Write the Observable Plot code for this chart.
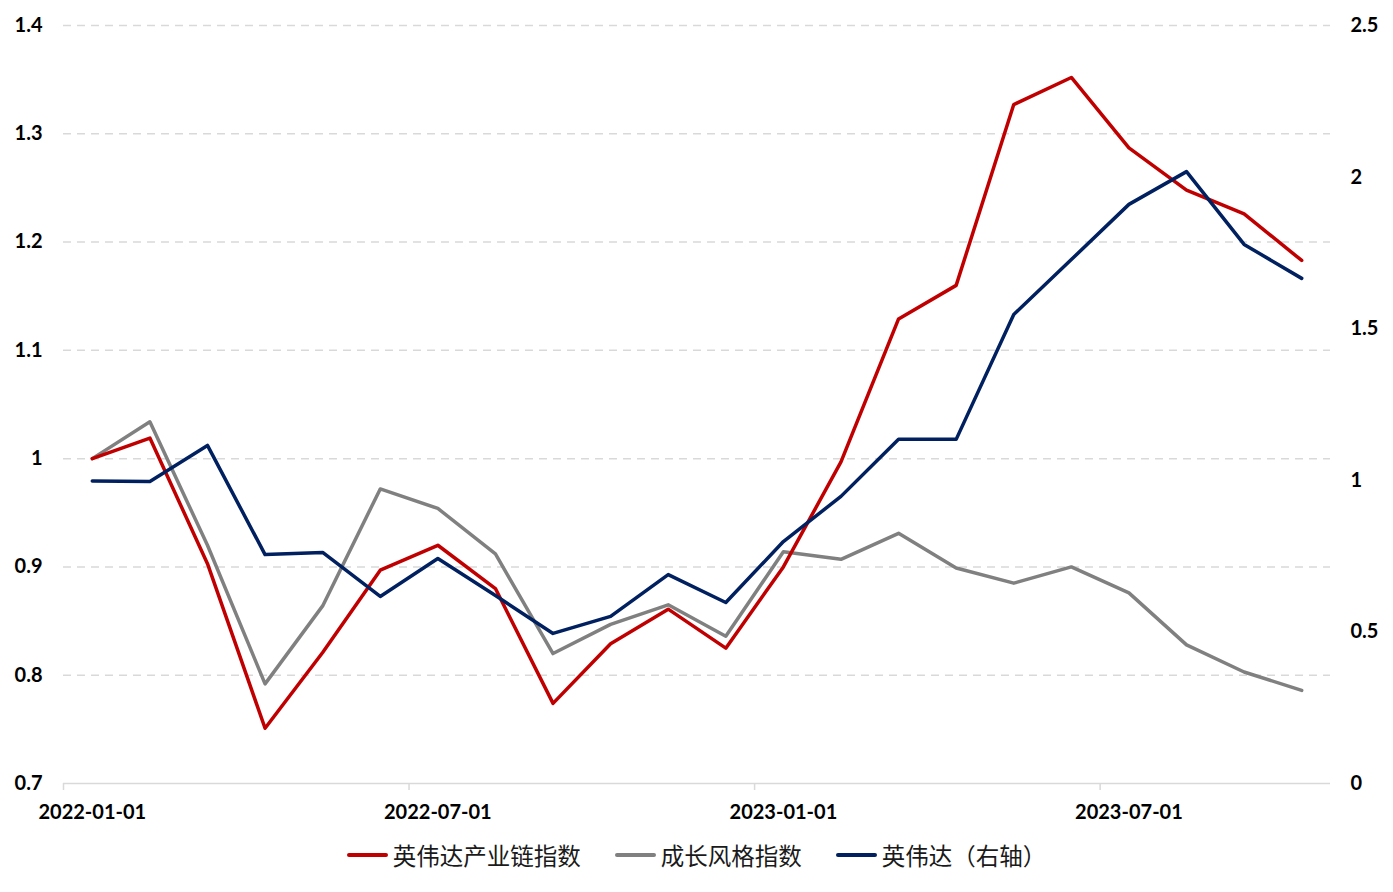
<!DOCTYPE html>
<html>
<head>
<meta charset="utf-8">
<script src="https://cdn.jsdelivr.net/npm/d3@7"></script>
<script src="https://cdn.jsdelivr.net/npm/@observablehq/plot@0.6"></script>
<style>
  body { margin: 0; background: #fff; }
  #legend { display: flex; justify-content: center; align-items: center; margin-top: 6px;
    font-family: "Noto Sans CJK SC", sans-serif; font-size: 23.5px; color: #1a1a1a; line-height: 28px; }
  .item { display: flex; align-items: center; margin: 0 17px; }
  .sw { width: 41px; height: 4px; border-radius: 2px; margin-right: 5px; }
</style>
</head>
<body>
<div id="chart"></div>
<div id="legend"></div>
<script>
const months = ["2022-01","2022-02","2022-03","2022-04","2022-05","2022-06","2022-07","2022-08","2022-09","2022-10","2022-11","2022-12",
  "2023-01","2023-02","2023-03","2023-04","2023-05","2023-06","2023-07","2023-08","2023-09","2023-10"];
const chainIndex = [1.000,1.019,0.903,0.751,0.821,0.897,0.920,0.880,0.774,0.829,0.861,0.825,0.900,0.997,1.129,1.160,1.327,1.352,1.287,1.248,1.226,1.183];
const growthIndex = [1.000,1.034,0.920,0.792,0.864,0.972,0.954,0.912,0.820,0.847,0.865,0.836,0.914,0.907,0.931,0.899,0.885,0.900,0.876,0.828,0.803,0.786];
const nvidia = [0.998,0.996,1.115,0.755,0.762,0.617,0.742,0.620,0.495,0.551,0.689,0.597,0.798,0.947,1.135,1.135,1.547,1.728,1.910,2.018,1.778,1.666];
const seriesNames = ["英伟达产业链指数","成长风格指数","英伟达（右轴）"];
const seriesColors = ["#c00000","#808080","#002060"];
const xTickLabels = ["2022-01-01","2022-07-01","2023-01-01","2023-07-01"];
const leftTicks = [0.7,0.8,0.9,1.0,1.1,1.2,1.3,1.4];
const rightTicks = [0,0.5,1,1.5,2,2.5];

const yMin = 0.7, yMax = 1.4, rMin = 0, rMax = 2.5;
const toLeft = r => yMin + (r - rMin) * (yMax - yMin) / (rMax - rMin);
const fromLeft = y => rMin + (y - yMin) * (rMax - rMin) / (yMax - yMin);

const labelIdx = xTickLabels.map(l => months.indexOf(l.slice(0,7)));
const bandEdges = labelIdx.map(i => i - 0.5);

const redRows = months.map((m,i) => ({i, v: chainIndex[i]}));
const grayRows = months.map((m,i) => ({i, v: growthIndex[i]}));
const navyRows = months.map((m,i) => ({i, v: toLeft(nvidia[i])}));

const fmt = d => String(+(+d).toFixed(2));
const font = "Lato, 'Open Sans', sans-serif";

const chart = Plot.plot({
  width: 1393, height: 835,
  marginTop: 25, marginBottom: 52, marginLeft: 63, marginRight: 63,
  style: {fontFamily: font, background: "#fff", color: "#000"},
  x: {domain: [-0.5, months.length - 0.5]},
  y: {domain: [yMin, yMax]},
  marks: [
    Plot.ruleY(leftTicks.slice(1), {stroke: "#d9d9d9", strokeWidth: 1.5, strokeDasharray: "8,6"}),
    Plot.ruleY([yMin], {stroke: "#d9d9d9", strokeWidth: 1.5}),
    Plot.axisX({ticks: bandEdges, tickSize: 7, tickFormat: () => "", stroke: "#d9d9d9", strokeWidth: 1.5, label: null}),
    Plot.axisX({ticks: labelIdx, tickSize: 0, tickPadding: 21, tickFormat: (d) => xTickLabels[labelIdx.indexOf(d)],
      fontSize: 20, fontWeight: "bold", label: null}),
    Plot.axisY({ticks: leftTicks, tickSize: 0, tickPadding: 21, tickFormat: fmt, fontSize: 20, fontWeight: "bold", label: null}),
    Plot.axisY({anchor: "right", ticks: rightTicks.map(toLeft), tickSize: 0, tickPadding: 20,
      tickFormat: d => fmt(fromLeft(d)), fontSize: 20, fontWeight: "bold", label: null}),
    Plot.line(grayRows, {x: "i", y: "v", stroke: seriesColors[1], strokeWidth: 3.5}),
    Plot.line(redRows, {x: "i", y: "v", stroke: seriesColors[0], strokeWidth: 3.5}),
    Plot.line(navyRows, {x: "i", y: "v", stroke: seriesColors[2], strokeWidth: 3.5})
  ]
});
document.getElementById("chart").appendChild(chart);

const legend = document.getElementById("legend");
seriesNames.forEach((n, k) => {
  const it = document.createElement("div");
  it.className = "item";
  const sw = document.createElement("div");
  sw.className = "sw";
  sw.style.background = seriesColors[k];
  const t = document.createElement("span");
  t.textContent = n;
  it.appendChild(sw); it.appendChild(t);
  legend.appendChild(it);
});
</script>
</body>
</html>
